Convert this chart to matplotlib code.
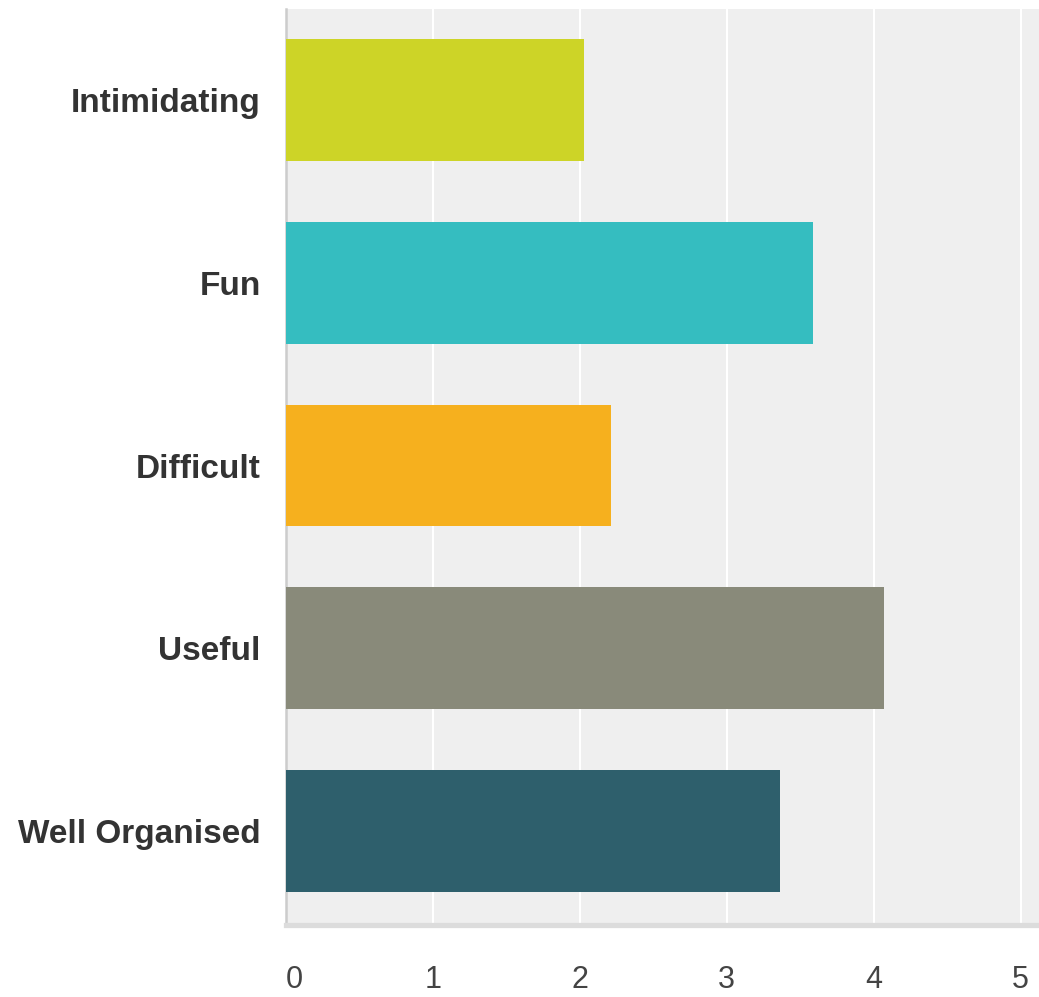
import matplotlib
matplotlib.use("Agg")
import matplotlib.pyplot as plt

categories = ["Intimidating", "Fun", "Difficult", "Useful", "Well Organised"]
scores = [2.03, 3.59, 2.21, 4.07, 3.36]
colors = ["#cdd427", "#35bdc0", "#f6b01e", "#898a7a", "#2e5f6c"]
xticks = [0, 1, 2, 3, 4, 5]

plt.rcParams['font.family'] = ['Liberation Sans', 'DejaVu Sans']

W, H = 1039, 997
fig = plt.figure(figsize=(W / 100, H / 100), dpi=100)
left, right, top, bottom = 285.7, 1039, 9, 925
ax = fig.add_axes([left / W, 1 - bottom / H, (right - left) / W, (bottom - top) / H])

ax.set_facecolor("#efefef")
ypos = list(range(len(categories)))
ax.barh(ypos, scores, height=0.666, color=colors, zorder=3)

ax.set_xlim(0, (right - left) / 147)
ax.set_ylim(4.5 + 3 / 182.6, -0.5)

ax.set_xticks(xticks)
ax.set_xticklabels([str(t) for t in xticks])
ax.set_yticks(ypos)
ax.set_yticklabels(categories)
ax.grid(axis="x", color="white", linewidth=1.5, zorder=1)
ax.set_axisbelow(True)

ax.tick_params(axis="x", length=0, pad=29, labelsize=22, labelcolor="#444444")
ax.tick_params(axis="y", length=0, pad=18, labelsize=24, labelcolor="#333333")
for lab in ax.get_yticklabels():
    lab.set_fontweight("bold")
ax.get_xticklabels()[0].set_horizontalalignment("left")

for s in ["top", "right"]:
    ax.spines[s].set_visible(False)
ax.spines["left"].set_color("#cccccc")
ax.spines["left"].set_linewidth(1.8)
ax.spines["bottom"].set_color("#dcdcdc")
ax.spines["bottom"].set_linewidth(3.8)

fig.savefig("out.png", dpi=100)
